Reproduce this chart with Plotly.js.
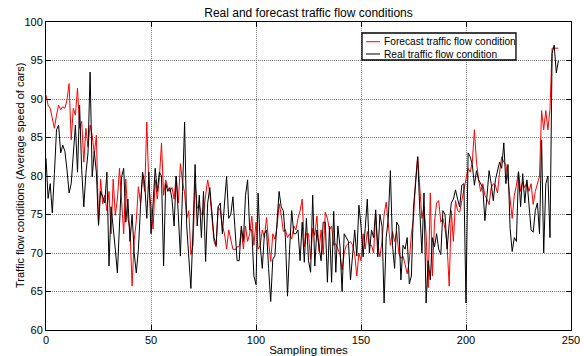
<!DOCTYPE html>
<html>
<head>
<meta charset="utf-8">
<script src="https://cdn.plot.ly/plotly-3.0.1.min.js"></script>
<style>
html,body{margin:0;padding:0;background:#fff;}
#chart{width:584px;height:356px;}
</style>
</head>
<body>
<div id="chart"></div>
<script>
// Forecast traffic flow condition (red)
const forecast = [
 90.5, 89.2, 88.8, 87.7, 86.2, 87.9, 89.2, 88.6, 89.0, 88.8,
 89.9, 92.0, 84.7, 88.8, 87.9, 91.4, 86.2, 87.1, 81.8, 86.2,
 83.8, 86.6, 85.3, 82.9, 85.3, 73.6, 79.6, 76.4, 77.5, 75.5,
 78.0, 72.5, 79.6, 74.9, 77.0, 81.0, 76.0, 72.5, 79.6, 74.5,
 73.0, 65.7, 71.7, 74.2, 78.6, 76.5, 80.0, 78.0, 87.0, 78.5,
 76.0, 73.1, 79.5, 77.0, 79.8, 84.3, 77.5, 79.5, 78.5, 78.0,
 78.5, 77.0, 80.0, 76.5, 81.6, 79.2, 77.8, 74.5, 75.5, 69.8,
 71.0, 79.0, 75.8, 76.2, 75.0, 75.0, 77.5, 79.5, 77.8, 74.0,
 71.5, 70.8, 76.0, 75.5, 73.5, 72.5, 70.5, 73.0, 71.5, 70.5,
 70.4, 70.8, 70.8, 73.0, 70.5, 73.5, 71.5, 72.5, 74.8, 71.0,
 74.0, 70.5, 71.0, 73.0, 72.0, 74.6, 71.5, 68.9, 72.5, 71.8,
 73.3, 76.4, 75.0, 72.8, 73.0, 72.0, 72.5, 71.8, 73.5, 73.0,
 74.5, 75.5, 77.0, 70.8, 72.5, 72.5, 69.2, 73.2, 72.3, 74.8,
 70.2, 73.0, 69.8, 75.3, 74.5, 73.0, 73.5, 71.0, 71.2, 70.5,
 69.8, 67.8, 70.0, 71.0, 71.2, 71.5, 71.0, 69.8, 67.0, 70.0,
 69.0, 72.5, 70.5, 72.8, 71.0, 71.0, 70.0, 75.0, 71.0, 69.5,
 71.5, 75.0, 76.6, 74.0, 71.0, 72.8, 71.5, 72.8, 70.0, 69.3,
 69.6, 68.5, 67.3, 69.0, 72.5, 74.5, 79.5, 82.5, 78.0, 74.5,
 76.0, 72.5, 65.5, 77.8, 67.0, 74.0, 76.5, 76.8, 74.0, 74.5,
 73.2, 71.0, 65.7, 75.5, 71.5, 76.8, 75.5, 75.3, 76.8, 78.3,
 79.5, 81.0, 80.5, 81.8, 86.0, 81.8, 79.5, 78.0, 79.0, 77.5,
 77.0, 76.3, 78.5, 79.0, 78.8, 77.8, 80.5, 82.5, 81.8, 81.5,
 79.5, 77.0, 74.5, 77.5, 78.8, 80.6, 78.0, 79.2, 78.5, 79.2,
 78.0, 79.0, 76.3, 78.0, 79.0, 80.0, 88.5, 86.0, 88.5, 86.0,
 88.7, 96.6, 96.6, 96.6, 96.6
];
// Real traffic flow condition (black)
const real = [
 82.3, 77.1, 79.0, 75.2, 80.3, 86.0, 86.6, 83.0, 84.0, 83.2,
 80.8, 77.8, 79.0, 82.5, 86.6, 80.5, 89.2, 80.8, 76.0, 80.3,
 83.0, 93.5, 79.9, 83.2, 80.4, 73.6, 78.0, 77.3, 76.5, 80.5,
 68.3, 76.0, 73.5, 70.5, 67.4, 73.5, 79.9, 81.0, 74.0, 77.0,
 71.5, 75.0, 70.0, 67.4, 70.5, 76.0, 80.5, 79.0, 74.5, 80.5,
 72.5, 76.5, 81.0, 78.0, 80.5, 80.0, 68.3, 79.0, 78.0, 78.5,
 77.0, 73.5, 80.0, 75.0, 69.6, 78.0, 87.0, 73.5, 70.0, 65.4,
 73.0, 81.5, 73.5, 77.5, 72.0, 78.0, 68.9, 76.5, 78.5, 75.5,
 72.0, 71.0, 76.0, 76.5, 72.5, 76.5, 80.0, 74.5, 75.0, 77.3,
 73.0, 69.0, 69.0, 73.5, 71.5, 77.5, 79.5, 73.0, 73.0, 67.0,
 65.9, 77.8, 71.0, 68.0, 72.5, 73.0, 68.0, 63.7, 69.2, 69.6,
 74.0, 78.0, 76.0, 75.5, 72.0, 64.4, 70.5, 75.5, 72.5, 72.5,
 73.0, 69.0, 74.0, 68.8, 74.5, 69.0, 67.5, 77.5, 68.3, 73.0,
 70.8, 69.0, 74.0, 74.0, 66.2, 73.5, 66.2, 75.4, 67.5, 73.5,
 70.8, 65.0, 72.5, 72.0, 71.5, 66.5, 70.0, 73.0, 69.6, 76.2,
 73.5, 69.5, 73.2, 77.0, 70.0, 73.0, 72.0, 75.6, 69.5, 75.0,
 73.5, 63.5, 72.0, 74.5, 80.7, 71.0, 68.0, 74.0, 73.5, 66.5,
 71.0, 70.5, 72.0, 66.0, 67.0, 76.0, 79.0, 82.5, 75.5, 70.0,
 77.8, 63.5, 69.0, 66.5, 72.0, 70.8, 72.5, 70.5, 69.8, 75.5,
 75.0, 70.5, 73.8, 76.5, 77.0, 78.2, 77.0, 76.0, 78.8, 79.0,
 63.5, 83.0, 82.5, 81.5, 78.8, 80.7, 79.5, 78.9, 78.5, 74.2,
 78.0, 80.7, 79.0, 76.8, 79.5, 80.7, 81.8, 81.0, 84.3, 79.0,
 81.5, 73.2, 70.2, 72.0, 71.5, 80.5, 76.0, 80.3, 76.5, 79.5,
 76.0, 73.0, 72.7, 75.5, 76.5, 72.5, 84.7, 70.0, 79.0, 80.0,
 72.0, 95.9, 97.0, 93.4, 95.0
];
const xTicks = [0, 50, 100, 150, 200, 250];
const yTicks = [60, 65, 70, 75, 80, 85, 90, 95, 100];
const seriesNames = ['Forecast traffic flow condition', 'Real traffic flow condition'];
const seriesColors = ['#ff0000', '#000000'];
const samples = forecast.map((_, i) => i);

const FONT = 'Liberation Sans, Arial, sans-serif';

const traces = [
  {x: samples, y: forecast, type: 'scatter', mode: 'lines', name: seriesNames[0],
   line: {color: seriesColors[0], width: 1}},
  {x: samples, y: real, type: 'scatter', mode: 'lines', name: seriesNames[1],
   line: {color: seriesColors[1], width: 1}}
];

const axisCommon = {
  showline: true, linecolor: '#000', linewidth: 1, mirror: 'ticks',
  ticks: 'inside', ticklen: 5, tickcolor: '#000', tickwidth: 1,
  showgrid: true, gridcolor: '#7a7a7a', gridwidth: 1, griddash: '1px,1px',
  zeroline: false, tickfont: {family: FONT, size: 11, color: '#000'}
};

// Legend box (drawn in paper coordinates, MATLAB style)
const lgX0 = 0.6019, lgX1 = 0.8952, lgY0 = 0.8766, lgY1 = 0.9643;
const rowY = [0.9360, 0.8961];
const swX0 = 0.6095, swX1 = 0.6362, txtX = 0.6400;

const shapes = [
  {type: 'rect', xref: 'paper', yref: 'paper', x0: lgX0, x1: lgX1, y0: lgY0, y1: lgY1,
   line: {color: '#000', width: 1.3}, fillcolor: '#fff', layer: 'above'}
];
const annotations = [];
seriesNames.forEach((nm, i) => {
  shapes.push({type: 'line', xref: 'paper', yref: 'paper', x0: swX0, x1: swX1, y0: rowY[i], y1: rowY[i],
               line: {color: seriesColors[i], width: 1}, layer: 'above'});
  annotations.push({xref: 'paper', yref: 'paper', x: txtX, y: rowY[i], xanchor: 'left', yanchor: 'middle',
                    text: nm, showarrow: false, font: {family: FONT, size: 10.2, color: '#000'}});
});
annotations.push({xref: 'paper', yref: 'paper', x: -0.0495, y: 0.5, xanchor: 'center', yanchor: 'middle',
                  textangle: -90, text: 'Traffic flow conditions (Average speed of cars)', showarrow: false,
                  font: {family: FONT, size: 11, color: '#000'}});

const layout = {
  width: 584, height: 356,
  margin: {l: 46, r: 13, t: 22, b: 26},
  paper_bgcolor: '#fff', plot_bgcolor: '#fff',
  font: {family: FONT, size: 11, color: '#000'},
  title: {text: 'Real and forecast traffic flow conditions', font: {family: FONT, size: 12, color: '#000'},
          x: 0.5, xref: 'paper', xanchor: 'center', y: 0.963, yref: 'container', yanchor: 'middle'},
  xaxis: Object.assign({}, axisCommon, {range: [0, 250], tickvals: xTicks, ticktext: xTicks.map(String),
          title: {text: 'Sampling times', font: {family: FONT, size: 11.5, color: '#000'}, standoff: 0}}),
  yaxis: Object.assign({}, axisCommon, {range: [60, 100], tickvals: yTicks, ticktext: yTicks.map(String)}),
  showlegend: false,
  shapes: shapes,
  annotations: annotations
};

Plotly.newPlot('chart', traces, layout, {displayModeBar: false, staticPlot: true});
</script>
</body>
</html>
